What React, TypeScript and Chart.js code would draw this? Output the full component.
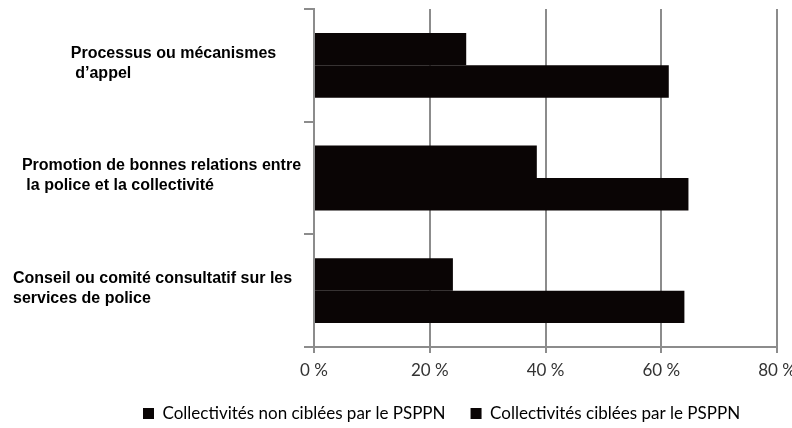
import React, { useEffect, useRef } from 'react';
import { Chart, registerables } from 'chart.js';

Chart.register(...registerables);

// Category labels (lines of each wrapped label)
const categories: string[][] = [
  ['             Processus ou mécanismes', '              d’appel'],
  ['  Promotion de bonnes relations entre', '   la police et la collectivité'],
  ['Conseil ou comité consultatif sur les', 'services de police'],
];

const seriesNames = [
  'Collectivités non ciblées par le PSPPN',
  'Collectivités ciblées par le PSPPN',
];

const nonCiblees = [26.3, 38.5, 24.0];
const ciblees = [61.3, 64.7, 64.0];

const xTicks = [0, 20, 40, 60, 80];

const BAR = '#0a0505';
const GRID = '#8c8c8c';
const LEGEND_PAD = 25;
const LEGEND_START = 143;

export default function App() {
  const ref = useRef<HTMLCanvasElement | null>(null);

  useEffect(() => {
    if (!ref.current) return;
    const shiftLegend = {
      id: 'shiftLegend',
      afterLayout(chart: any) {
        const lg = chart.legend;
        if (lg && lg.lineWidths && lg.lineWidths.length) {
          const lw = lg.lineWidths[0];
          lg.left = 2 * LEGEND_START + lw - LEGEND_PAD - lg.right;
        }
      },
    };
    const chart = new Chart(ref.current, {
      type: 'bar',
      data: {
        labels: categories,
        datasets: [
          {
            label: seriesNames[0],
            data: nonCiblees,
            backgroundColor: BAR,
            borderWidth: 0,
            categoryPercentage: 0.575,
            barPercentage: 1,
          },
          {
            label: seriesNames[1],
            data: ciblees,
            backgroundColor: BAR,
            borderWidth: 0,
            categoryPercentage: 0.575,
            barPercentage: 1,
          },
        ],
      },
      options: {
        indexAxis: 'y',
        animation: false,
        responsive: false,
        maintainAspectRatio: false,
        layout: { padding: { left: 13, right: 15, top: 9, bottom: 0 } },
        scales: {
          x: {
            min: 0,
            max: 80,
            afterBuildTicks: (s: any) => {
              s.ticks = xTicks.map((v) => ({ value: v }));
            },
            ticks: {
              callback: (v: any) => `${v} %`,
              color: '#333',
              font: { family: 'Lato', size: 17 },
              padding: 7,
              maxRotation: 0,
            },
            grid: { color: GRID, lineWidth: 2, tickLength: 6, drawTicks: true },
            border: { display: true, color: GRID, width: 2 },
            afterFit: (s: any) => {
              s.height = 33;
              s.paddingLeft = 0;
              s.paddingRight = 0;
            },
          },
          y: {
            ticks: {
              crossAlign: 'far',
              color: '#000',
              font: { family: 'Liberation Sans', size: 16, weight: 'bold', lineHeight: 1.25 },
              labelOffset: -2,
            },
            grid: {
              drawOnChartArea: false,
              offset: true,
              tickLength: 10,
              color: GRID,
              lineWidth: 2,
            },
            border: { display: true, color: GRID, width: 2 },
            afterFit: (s: any) => {
              s.width = 301;
              s.paddingTop = 0;
              s.paddingBottom = 0;
            },
          },
        },
        plugins: {
          legend: {
            position: 'bottom',
            maxHeight: 48,
            labels: {
              boxWidth: 11,
              boxHeight: 11,
              padding: LEGEND_PAD,
              color: '#000',
              font: { family: 'Lato', size: 17 },
            },
          },
          tooltip: { enabled: false },
        },
      } as any,
      plugins: [shiftLegend],
    });
    return () => chart.destroy();
  }, []);

  return (
    <div style={{ position: 'fixed', left: 0, top: 0, width: 792, height: 428, background: '#fff' }}>
      <canvas ref={ref} width={792} height={428} />
    </div>
  );
}
